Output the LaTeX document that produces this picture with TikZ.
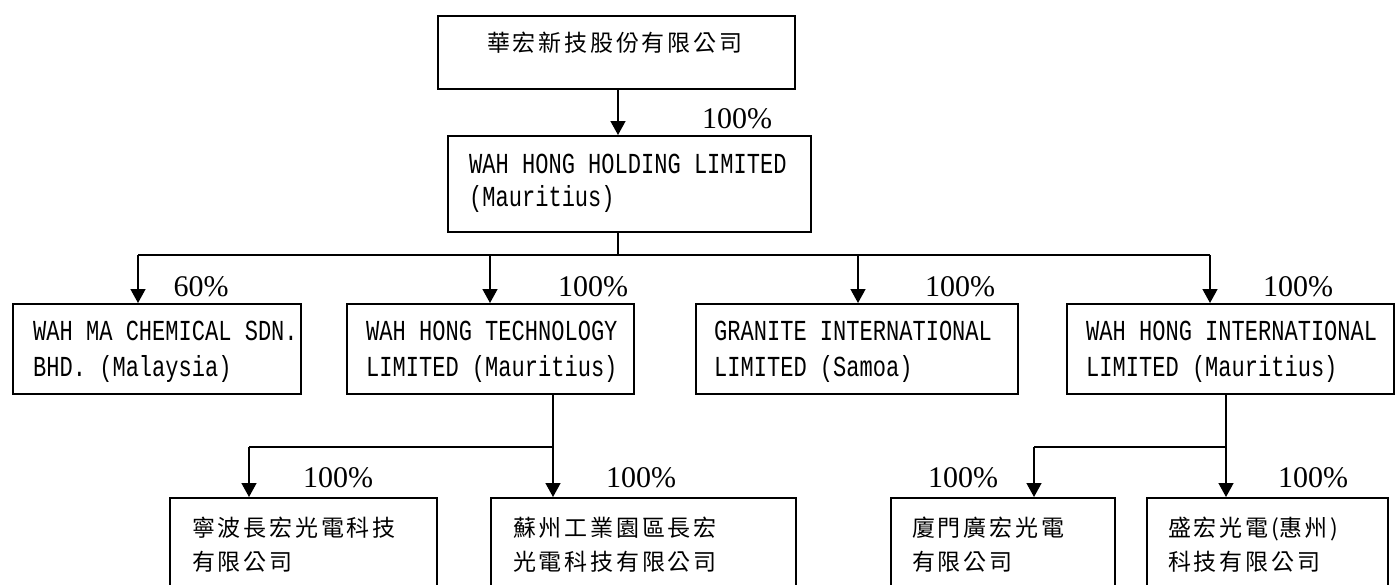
\documentclass[tikz,border=0pt]{standalone}
\usepackage{fontspec}
\usetikzlibrary{arrows.meta}
\newfontfamily\cjk{Noto Sans CJK TC}
\newfontfamily\latn[FakeStretch=0.76]{Liberation Mono}
\newfontfamily\pctf{Liberation Serif}
\makeatletter
\newcommand\cjkspaced[1]{\@tfor\cjktmp:=#1\do{\cjktmp\kern2.8pt}}
\makeatother
\tikzset{
  box/.style={draw, line width=1.5pt, rectangle, inner sep=0pt, anchor=north west},
  ln/.style={line width=1.5pt},
  arr/.style={line width=1.5pt, -{Triangle[width=15pt,length=14pt]}},
  lat/.style={anchor=base west, inner sep=0pt, font=\latn\fontsize{29}{34}\selectfont},
  zh/.style={anchor=base west, inner sep=0pt, font=\cjk\fontsize{23}{27}\selectfont},
  pct/.style={anchor=base, inner sep=0pt, font=\pctf\fontsize{30}{34}\selectfont}
}
\begin{document}
\begin{tikzpicture}[x=1pt, y=-1pt]
\useasboundingbox (0,0) rectangle (1395,584);
\clip (0,0) rectangle (1395,584);
% boxes
\node[box, minimum width=357pt, minimum height=73pt] (top) at (437,15) {};
\node[box, minimum width=363pt, minimum height=96pt] (hold) at (447,135) {};
\node[box, minimum width=288pt, minimum height=90pt] (b1) at (12,303) {};
\node[box, minimum width=287pt, minimum height=90pt] (b2) at (346,303) {};
\node[box, minimum width=322pt, minimum height=90pt] (b3) at (695,303) {};
\node[box, minimum width=327pt, minimum height=90pt] (b4) at (1066,303) {};
\node[box, minimum width=267pt, minimum height=120pt] (c1) at (169,497) {};
\node[box, minimum width=305pt, minimum height=120pt] (c2) at (490,497) {};
\node[box, minimum width=224pt, minimum height=120pt] (c3) at (890,497) {};
\node[box, minimum width=241pt, minimum height=120pt] (c4) at (1146,497) {};
% texts
\node[zh] (ttop) at (487,51.8) {\cjkspaced{華宏新技股份有限公司}};
\node[lat] (th1) at (469,173.5) {WAH HONG HOLDING LIMITED};
\node[lat] (th2) at (469,206.5) {(Mauritius)};
\node[lat] (tb1a) at (33,340.5) {WAH MA CHEMICAL SDN.};
\node[lat] (tb1b) at (33,376.5) {BHD. (Malaysia)};
\node[lat] (tb2a) at (366,340.5) {WAH HONG TECHNOLOGY};
\node[lat] (tb2b) at (366,376.5) {LIMITED (Mauritius)};
\node[lat] (tb3a) at (714,340.5) {GRANITE INTERNATIONAL};
\node[lat] (tb3b) at (714,376.5) {LIMITED (Samoa)};
\node[lat] (tb4a) at (1086,340.5) {WAH HONG INTERNATIONAL};
\node[lat] (tb4b) at (1086,376.5) {LIMITED (Mauritius)};
\node[zh] (tc1a) at (192,536.8) {\cjkspaced{寧波長宏光電科技}};
\node[zh] (tc1b) at (192,570.8) {\cjkspaced{有限公司}};
\node[zh] (tc2a) at (513,536.8) {\cjkspaced{蘇州工業園區長宏}};
\node[zh] (tc2b) at (513,570.8) {\cjkspaced{光電科技有限公司}};
\node[zh] (tc3a) at (912,536.8) {\cjkspaced{廈門廣宏光電}};
\node[zh] (tc3b) at (912,570.8) {\cjkspaced{有限公司}};
\node[zh] (tc4a) at (1168,536.8) {\cjkspaced{盛宏光電}(\cjkspaced{惠州})};
\node[zh] (tc4b) at (1168,570.8) {\cjkspaced{科技有限公司}};
% percentages
\node[pct] (p0) at (737,128.5) {100\%};
\node[pct] (p1) at (201,296.5) {60\%};
\node[pct] (p2) at (593,296.5) {100\%};
\node[pct] (p3) at (960,296.5) {100\%};
\node[pct] (p4) at (1298,296.5) {100\%};
\node[pct] (p5) at (338,487.5) {100\%};
\node[pct] (p6) at (641,487.5) {100\%};
\node[pct] (p7) at (963,487.5) {100\%};
\node[pct] (p8) at (1313,487.5) {100\%};
% connectors
\coordinate (x0) at (618,0);
\draw[arr] (top.south -| x0) -- (hold.north -| x0);
\coordinate (ja) at (618,255);
\coordinate (jl) at (138,255);
\coordinate (j2) at (490,255);
\coordinate (j3) at (858,255);
\coordinate (jr) at (1210,255);
\draw[ln] (hold.south -| ja) -- (ja);
\draw[ln] (jl) -- (jr);
\draw[arr] (jl) -- (b1.north -| jl);
\draw[arr] (j2) -- (b2.north -| j2);
\draw[arr] (j3) -- (b3.north -| j3);
\draw[arr] (jr) -- (b4.north -| jr);
\coordinate (kb) at (553,447);
\coordinate (kl) at (249,447);
\draw[ln] (b2.south -| kb) -- (kb);
\draw[ln] (kl) -- (kb);
\draw[arr] (kl) -- (c1.north -| kl);
\draw[arr] (kb) -- (c2.north -| kb);
\coordinate (mb) at (1226,447);
\coordinate (ml) at (1034,447);
\draw[ln] (b4.south -| mb) -- (mb);
\draw[ln] (ml) -- (mb);
\draw[arr] (ml) -- (c3.north -| ml);
\draw[arr] (mb) -- (c4.north -| mb);
\end{tikzpicture}
\end{document}
